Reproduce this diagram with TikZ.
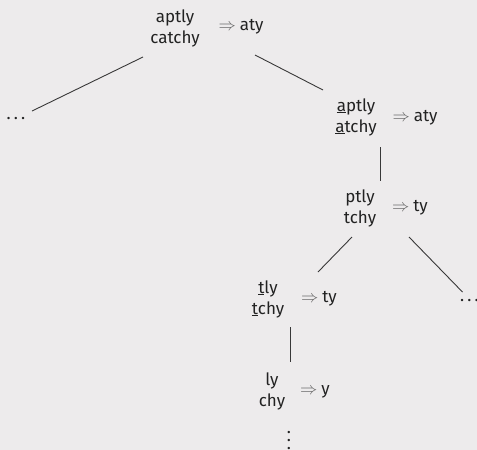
\documentclass[tikz,border=0pt]{standalone}
\usepackage{fontspec}
\setmainfont{Fira Sans}
\usetikzlibrary{calc}
\definecolor{bg}{HTML}{EDEBEC}
\definecolor{ink}{HTML}{222222}
\definecolor{arr}{HTML}{666666}
\newcommand{\res}[1]{\textcolor{arr}{$\Rightarrow$}\hspace{4pt}#1}
\newcommand{\hdots}{.\kern3.2pt.\kern3.2pt.}
\begin{document}
\begin{tikzpicture}[x=1pt,y=-1pt,
  every node/.style={font=\fontsize{17}{21}\selectfont, text=ink, inner sep=0pt},
  stack/.style={align=center},
  vstack/.style={align=center, font=\fontsize{17}{8}\selectfont},
  conn/.style={draw=ink!90, line width=0.9pt}]
\fill[bg] (0,0) rectangle (477,450);
\useasboundingbox (0,0) rectangle (477,450);
% nodes
\node[stack] (r) at (175,28) {aptly\\catchy};
\node (ra) at (241,27) {\res{aty}};
\node[anchor=base] (ld1) at (16,119) {\hdots};
\node[stack] (n2) at (356,117) {\underline{a}ptly\\\underline{a}tchy};
\node (n2a) at (415,118) {\res{aty}};
\node[stack] (n3) at (360,208) {ptly\\tchy};
\node (n3a) at (410,208) {\res{ty}};
\node[anchor=base] (ld2) at (469.5,301) {\hdots};
\node[stack] (n4) at (268,299) {\underline{t}ly\\\underline{t}chy};
\node (n4a) at (319,299) {\res{ty}};
\node[stack] (n5) at (272,391) {ly\\chy};
\node (n5a) at (315,392) {\res{y}};
\node[vstack] (vd) at (289,441) {.\\.\\.};
% connectors
\draw[conn] ($(r)+(-32,29)$) -- ($(ld1)+(16,-7)$);
\draw[conn] ($(ra)+(14,28)$) -- ($(n2)+(-33,-27)$);
\draw[conn] ($(n2)+(24,30)$) -- ($(n3)+(20,-27)$);
\draw[conn] ($(n3)+(-8,29)$) -- ($(n4)+(50,-27)$);
\draw[conn] ($(n3a)+(-1,29)$) -- ($(ld2)+(-7,-8)$);
\draw[conn] ($(n4)+(22,28)$) -- ($(n5)+(18,-29)$);
\end{tikzpicture}
\end{document}
